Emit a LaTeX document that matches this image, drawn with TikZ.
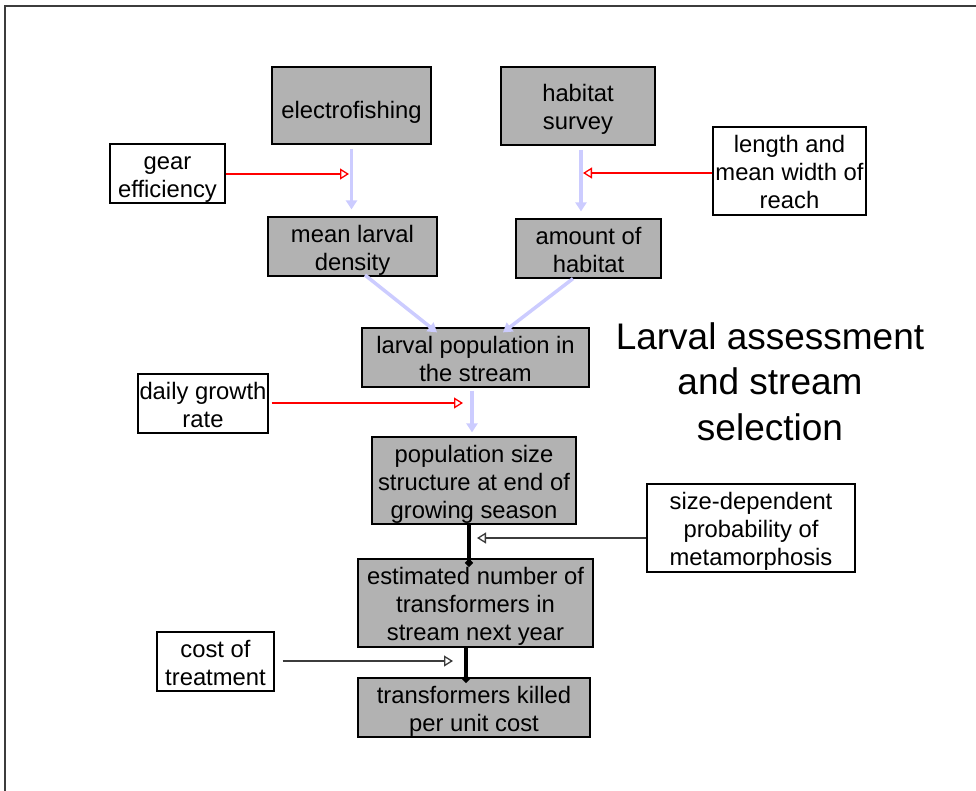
\documentclass[tikz,border=0pt]{standalone}
\usepackage{fontspec}
\setmainfont{Liberation Sans}
\usetikzlibrary{arrows.meta,calc}
\definecolor{boxgray}{RGB}{178,178,178}
\definecolor{flowblue}{RGB}{204,204,255}
\definecolor{framegray}{RGB}{60,60,60}
\newcommand\topst{\rule{0pt}{25pt}}
\newcommand\botst{\rule[-5.5pt]{0pt}{5.5pt}}
\begin{document}
\begin{tikzpicture}[x=1pt,y=-1pt,
  txt/.style={inner sep=0pt, align=center, font=\fontsize{23.8}{28}\selectfont},
  graybox/.style={txt, draw=black, line width=1.2pt, fill=boxgray},
  whitebox/.style={txt, draw=black, line width=1.1pt, fill=white},
  flow/.style={draw=flowblue, line width=3.5pt, -{Triangle[length=9pt,width=11pt]}},
  redin/.style={draw=red, line width=1.3pt, -{Triangle[open,length=9pt,width=11pt,line width=1.3pt]}},
  blkin/.style={draw=framegray, line width=1.3pt, -{Triangle[open,length=9pt,width=11pt,line width=1.3pt]}},
  stem/.style={draw=black, line width=4pt, -{Circle[length=7pt]}},
  title/.style={align=center, font=\fontsize{37}{45.5}\selectfont}]
\useasboundingbox (0,0) rectangle (976,791);
\draw[framegray, line width=2pt] (4.5,6.5) rectangle (1000,820);

% gray boxes
\node[graybox, minimum width=159pt, minimum height=77pt] (elec) at (351.5,105.5) {\rule{0pt}{31pt}electrofishing\botst};
\node[graybox, minimum width=154pt, minimum height=78pt] (hab) at (578,106) {\topst habitat\\survey\botst};
\node[graybox, minimum width=169pt, minimum height=59pt] (mld) at (352.5,246.5) {\topst mean larval\\density\botst};
\node[graybox, minimum width=145pt, minimum height=59pt] (amt) at (588.5,248.5) {\topst amount of\\habitat\botst};
\node[graybox, minimum width=227pt, minimum height=59pt] (lpop) at (475.5,357.5) {\topst larval population in\\the stream\botst};
\node[graybox, minimum width=204pt, minimum height=87pt] (psize) at (474,480.5) {\topst population size\\structure at end of\\growing season\botst};
\node[graybox, minimum width=235pt, minimum height=88pt] (est) at (475.5,603) {\topst estimated number of\\transformers in\\stream next year\botst};
\node[graybox, minimum width=232pt, minimum height=59pt] (kill) at (474,707.5) {\topst transformers killed\\per unit cost\botst};

% white boxes
\node[whitebox, minimum width=115pt, minimum height=59pt] (gear) at (167.5,173.5) {\topst gear\\efficiency\botst};
\node[whitebox, minimum width=153pt, minimum height=88pt] (len) at (789.5,171) {\topst length and\\mean width of\\reach\botst};
\node[whitebox, minimum width=130pt, minimum height=59pt] (daily) at (203,403.5) {\topst daily growth\\rate\botst};
\node[whitebox, minimum width=208pt, minimum height=88pt] (sdep) at (751,528) {\topst size-dependent\\probability of\\metamorphosis\botst};
\node[whitebox, minimum width=117pt, minimum height=59pt] (cost) at (215.5,661.5) {\topst cost of\\treatment\botst};

% title
\node[title] (ttl) at (770,381.5) {Larval assessment\\and stream\\selection};

% blue flow arrows
\draw[flow, shorten <=4pt, shorten >=7pt] (elec.south) -- (elec.south |- mld.north);
\draw[flow, shorten <=4pt, shorten >=7pt] ([xshift=3pt]hab.south) -- ([xshift=3pt]hab.south |- amt.north);
\draw[flow] ([xshift=12.5pt,yshift=1.5pt]mld.south) -- ([xshift=-38.5pt,yshift=-5pt]lpop.north);
\draw[flow] ([xshift=-15.5pt]amt.south) -- ([xshift=27.5pt,yshift=-5pt]lpop.north);
\draw[flow, shorten <=3pt, shorten >=4pt] ([xshift=-3.5pt]lpop.south) -- ([xshift=-3.5pt]lpop.south |- psize.north);

% red inputs
\coordinate (g1) at (349,174);
\draw[redin] (gear.east |- g1) -- (g1);
\coordinate (l1) at (583,173);
\draw[redin] (len.west |- l1) -- (l1);
\coordinate (d1) at (463,403);
\draw[redin, shorten <=3pt] (daily.east |- d1) -- (d1);

% black stems
\draw[stem] ([xshift=-5pt]psize.south) -- ([xshift=-5pt,yshift=-8pt]psize.south |- est.north);
\draw[stem] ([xshift=-9.5pt]est.south) -- ([xshift=-9.5pt,yshift=-5pt]est.south |- kill.north);

% black inputs
\coordinate (s1) at (477,538);
\draw[blkin] (sdep.west |- s1) -- (s1);
\coordinate (c1) at (453,661);
\draw[blkin, shorten <=8pt] (cost.east |- c1) -- (c1);
\end{tikzpicture}
\end{document}
